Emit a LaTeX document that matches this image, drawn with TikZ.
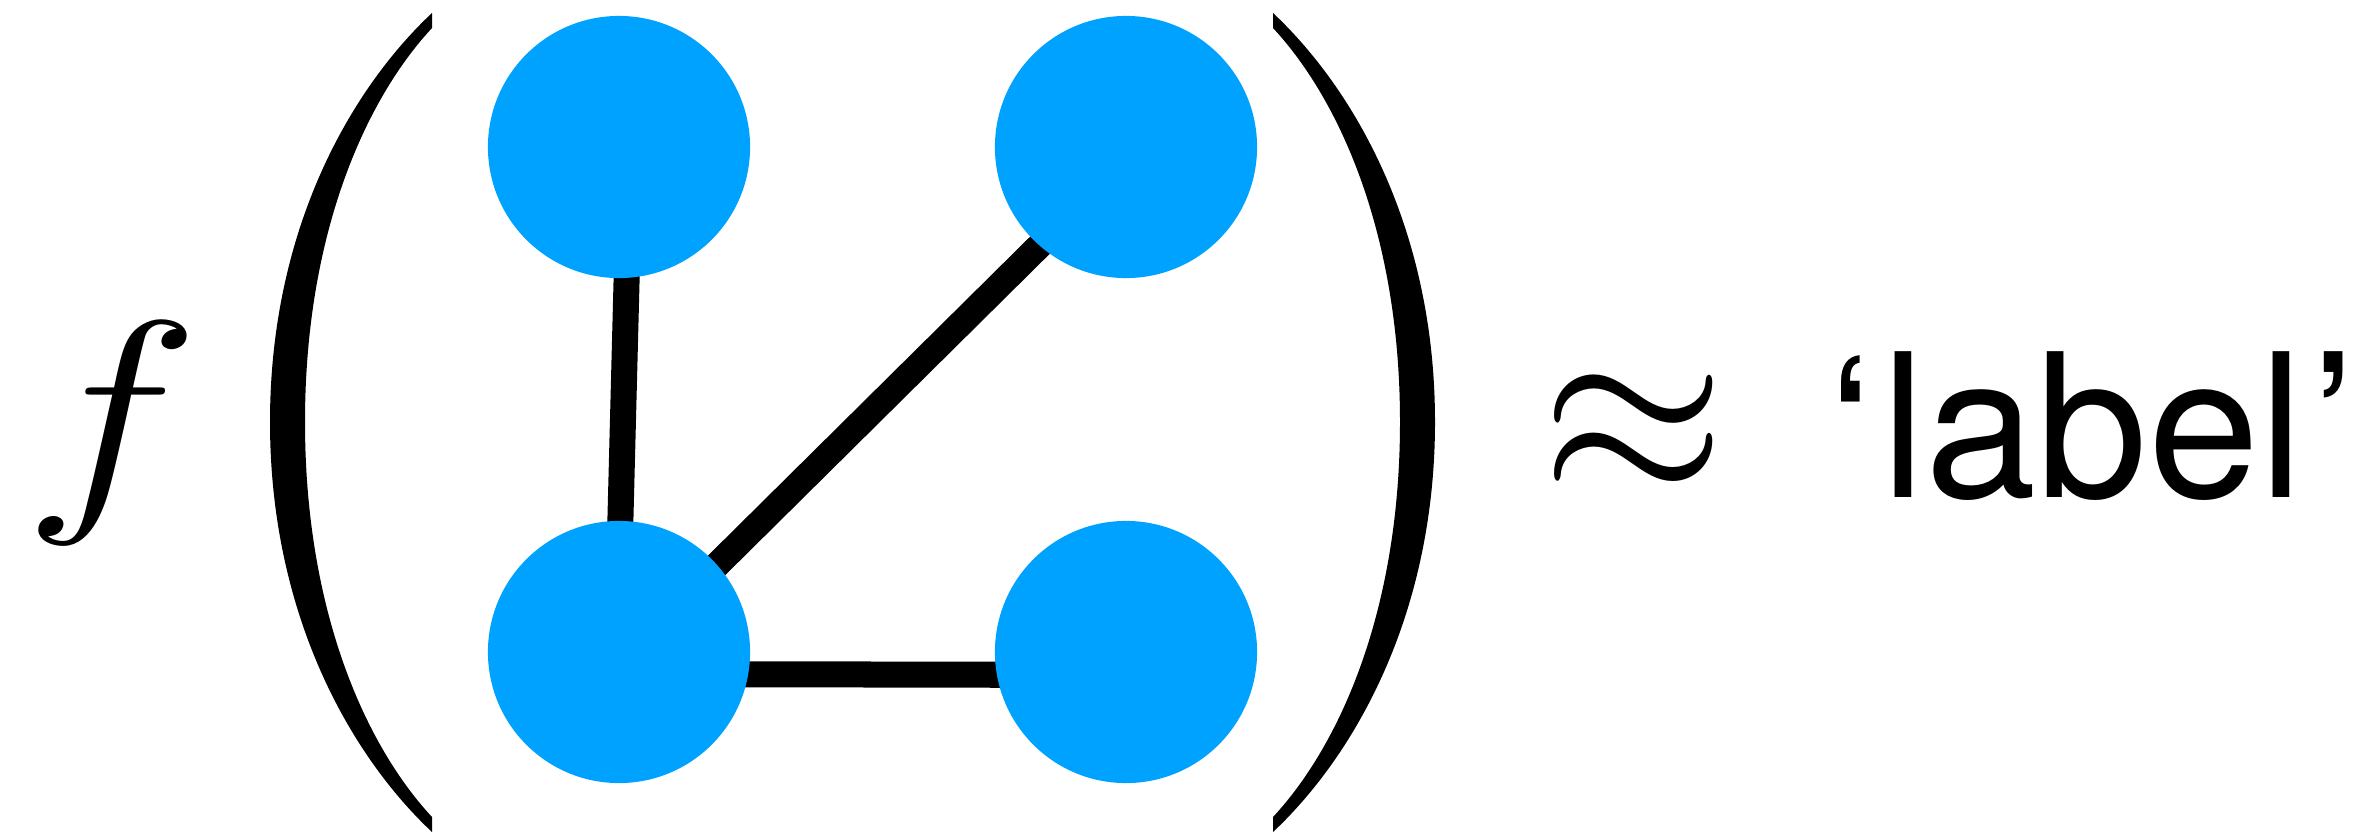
\RequirePackage{fix-cm}
\documentclass[tikz,border=0pt]{standalone}
\usepackage{graphicx}
\usepackage{fontspec}
\newfontfamily\heros{TeX Gyre Heros}
\usetikzlibrary{backgrounds,calc}
\definecolor{nodeblue}{RGB}{0,162,255}
\begin{document}
\begin{tikzpicture}[x=0.01cm,y=-0.01cm,
  vertex/.style={circle,fill=nodeblue,minimum size=2.62cm,inner sep=0pt},
  edgeline/.style={line width=0.26cm},
  bigmath/.style={inner sep=0pt,anchor=base west,font=\fontsize{71}{71}\selectfont},
  lbl/.style={inner sep=0pt,anchor=base west,font=\fontsize{56.9}{57}\selectfont\heros}]
\useasboundingbox (0,0) rectangle (2372,836);
\node[vertex] (tl) at (619,147) {};
\node[vertex] (tr) at (1126,147) {};
\node[vertex] (bl) at (619,652) {};
\node[vertex] (br) at (1126,652) {};
\begin{pgfonlayer}{background}
\draw[edgeline] ($(tl)+(11,0)$) -- ($(bl)+(-2,0)$);
\draw[edgeline] ($(bl)+(0,10)$) -- ($(tr)+(0,13)$);
\draw[edgeline] ($(bl)+(0,22)$) -- ($(br)+(0,23)$);
\end{pgfonlayer}
% parentheses
\fill (432,13) .. controls (350,90) and (270,230) .. (270,422) .. controls (270,614) and (350,755) .. (432,832) -- (432,817) .. controls (365,745) and (305,610) .. (305,422) .. controls (305,235) and (365,100) .. (432,28) -- cycle;
\fill (1273,13) .. controls (1355,90) and (1435,230) .. (1435,422) .. controls (1435,614) and (1355,755) .. (1273,832) -- (1273,817) .. controls (1340,745) and (1400,610) .. (1400,422) .. controls (1400,235) and (1340,100) .. (1273,28) -- cycle;
\node[bigmath] (f) at (23,495) {\scalebox{1.2}[1]{$f$}};
\node[bigmath] (approx) at (1541,495) {\scalebox{0.95}[1]{$\approx$}};
\node[lbl] (label) at (1828,497) {‘\kern0.08cm label\kern0.08cm’};
\end{tikzpicture}
\end{document}
